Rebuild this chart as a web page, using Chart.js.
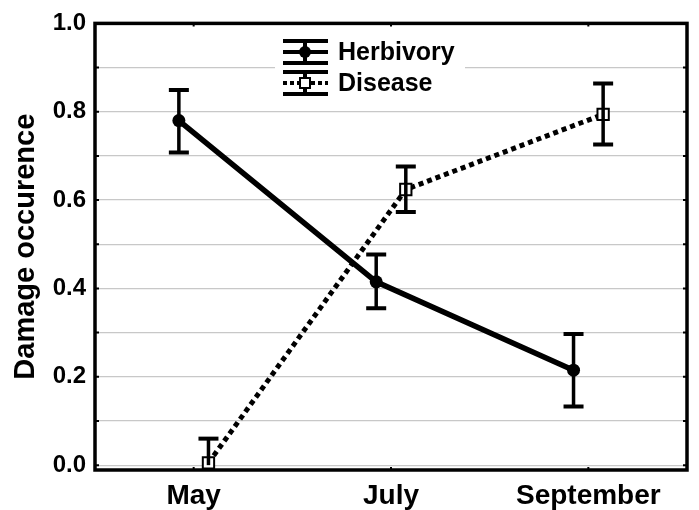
<!DOCTYPE html>
<html>
<head>
<meta charset="utf-8">
<script src="https://cdn.jsdelivr.net/npm/chart.js@4.4.1/dist/chart.umd.min.js"></script>
<style>
  html, body { margin: 0; padding: 0; background: #fff; }
  #wrap { width: 699px; height: 510px; position: relative; }
</style>
</head>
<body>
<div id="wrap"><canvas id="damageChart"></canvas></div>
<script>
// Data
const months = ['May', 'July', 'September'];

const herbivoryMean = [0.78, 0.415, 0.215];
const herbivoryLow = [0.708, 0.355, 0.133];
const herbivoryHigh = [0.849, 0.477, 0.297];

const diseaseMean = [0.005, 0.624, 0.794];
const diseaseLow = [0.0, 0.573, 0.726];
const diseaseHigh = [0.06, 0.676, 0.864];

const yTicks = [0, 0.1, 0.2, 0.3, 0.4, 0.5, 0.6, 0.7, 0.8, 0.9, 1.0];

// points are nudged sideways from the category centre, like the original
const SHIFT = 0.075;
const FONT = '"Liberation Sans", Arial, sans-serif';

const toPoints = (vals, dx) => vals.map((v, i) => ({ x: i + dx, y: v }));

const errorBars = {
    id: 'errorBars',
    afterDatasetsDraw(chart) {
        const { ctx, scales: { x, y } } = chart;
        const sets = [
            { lo: herbivoryLow, hi: herbivoryHigh, dx: -SHIFT },
            { lo: diseaseLow, hi: diseaseHigh, dx: SHIFT }
        ];
        ctx.save();
        ctx.strokeStyle = '#000';
        sets.forEach(s => {
            s.lo.forEach((lo, i) => {
                const px = x.getPixelForValue(i + s.dx);
                const y1 = y.getPixelForValue(lo);
                const y2 = y.getPixelForValue(s.hi[i]);
                ctx.lineWidth = 3.5;
                ctx.beginPath();
                ctx.moveTo(px, y1);
                ctx.lineTo(px, y2);
                ctx.stroke();
                ctx.lineWidth = 4;
                ctx.beginPath();
                ctx.moveTo(px - 10, y2);
                ctx.lineTo(px + 10, y2);
                if (lo > 0) {
                    ctx.moveTo(px - 10, y1);
                    ctx.lineTo(px + 10, y1);
                }
                ctx.stroke();
            });
        });
        ctx.restore();
    }
};

const frame = {
    id: 'frame',
    beforeDatasetsDraw(chart) {
        const { ctx, chartArea: a, scales: { x, y } } = chart;
        ctx.save();
        ctx.strokeStyle = '#000';
        // small inward ticks
        ctx.lineWidth = 2;
        ctx.beginPath();
        yTicks.forEach(v => {
            const py = y.getPixelForValue(v);
            ctx.moveTo(a.left, py); ctx.lineTo(a.left + 4, py);
            ctx.moveTo(a.right, py); ctx.lineTo(a.right - 4, py);
        });
        months.forEach((m, i) => {
            const px = x.getPixelForValue(i);
            ctx.moveTo(px, a.top); ctx.lineTo(px, a.top + 3);
            ctx.moveTo(px, a.bottom); ctx.lineTo(px, a.bottom - 3);
        });
        ctx.stroke();
        ctx.lineWidth = 3.5;
        ctx.strokeRect(a.left, a.top, a.right - a.left, a.bottom - a.top);
        ctx.restore();
    }
};

const legendBox = {
    id: 'legendBox',
    afterDatasetsDraw(chart) {
        const { ctx } = chart;
        const entries = [
            { label: 'Herbivory', cy: 52, dash: [], marker: 'circle' },
            { label: 'Disease', cy: 83, dash: [4, 3], marker: 'rect' }
        ];
        ctx.save();
        ctx.fillStyle = '#fff';
        ctx.fillRect(275, 31, 190, 72);
        const x0 = 283, x1 = 328, cx = 305;
        entries.forEach(e => {
            ctx.strokeStyle = '#000';
            ctx.lineWidth = 4;
            ctx.setLineDash([]);
            ctx.beginPath();
            ctx.moveTo(x0, e.cy - 11); ctx.lineTo(x1, e.cy - 11);
            ctx.moveTo(x0, e.cy + 11); ctx.lineTo(x1, e.cy + 11);
            ctx.moveTo(cx, e.cy - 11); ctx.lineTo(cx, e.cy + 11);
            ctx.stroke();
            ctx.setLineDash(e.dash);
            ctx.beginPath();
            ctx.moveTo(x0, e.cy); ctx.lineTo(x1, e.cy);
            ctx.stroke();
            ctx.setLineDash([]);
            if (e.marker === 'circle') {
                ctx.fillStyle = '#000';
                ctx.beginPath();
                ctx.arc(cx, e.cy, 6, 0, Math.PI * 2);
                ctx.fill();
            } else {
                ctx.fillStyle = '#fff';
                ctx.fillRect(cx - 5, e.cy - 5, 10, 10);
                ctx.lineWidth = 2;
                ctx.strokeRect(cx - 5, e.cy - 5, 10, 10);
            }
            ctx.fillStyle = '#000';
            ctx.font = 'bold 25px ' + FONT;
            ctx.textBaseline = 'middle';
            ctx.textAlign = 'left';
            ctx.fillText(e.label, 338, e.cy + 1);
        });
        ctx.restore();
    }
};

new Chart(document.getElementById('damageChart'), {
    type: 'line',
    data: {
        datasets: [
            {
                label: 'Herbivory',
                data: toPoints(herbivoryMean, -SHIFT),
                borderColor: '#000',
                backgroundColor: '#000',
                borderWidth: 5.5,
                pointStyle: 'circle',
                pointRadius: 6.5,
                pointBorderWidth: 0,
                pointBackgroundColor: '#000'
            },
            {
                label: 'Disease',
                data: toPoints(diseaseMean, SHIFT),
                borderColor: '#000',
                borderWidth: 5,
                borderDash: [5, 4],
                pointStyle: 'rect',
                pointRadius: 8,
                pointBorderWidth: 2,
                pointBorderColor: '#000',
                pointBackgroundColor: '#fff'
            }
        ]
    },
    options: {
        responsive: true,
        maintainAspectRatio: false,
        animation: false,
        layout: { padding: { top: 20, right: 12, left: 0, bottom: 0 } },
        plugins: {
            legend: { display: false },
            tooltip: { enabled: false }
        },
        scales: {
            x: {
                type: 'linear',
                min: -0.5,
                max: 2.5,
                afterBuildTicks: s => { s.ticks = months.map((m, i) => ({ value: i })); },
                afterFit: s => { s.height = 40; },
                grid: { display: false, drawTicks: false },
                border: { display: false },
                ticks: {
                    color: '#000',
                    padding: 9,
                    font: { family: FONT, size: 28, weight: 'bold' },
                    callback: v => months[v] || ''
                }
            },
            y: {
                min: -0.011,
                max: 1.0,
                afterBuildTicks: s => { s.ticks = yTicks.map(v => ({ value: v })); },
                afterFit: s => { s.width = 95; },
                grid: { color: '#c8c8c8', lineWidth: 1.2, drawTicks: false },
                border: { display: false },
                ticks: {
                    color: '#000',
                    padding: 9,
                    font: { family: FONT, size: 24, weight: 'bold' },
                    callback: v => (Math.round(v * 10) % 2 === 0 ? v.toFixed(1) : '')
                },
                title: {
                    display: true,
                    text: 'Damage occurence',
                    color: '#000',
                    padding: { top: 9, bottom: 0 },
                    font: { family: FONT, size: 29, weight: 'bold' }
                }
            }
        }
    },
    plugins: [frame, errorBars, legendBox]
});
</script>
</body>
</html>
